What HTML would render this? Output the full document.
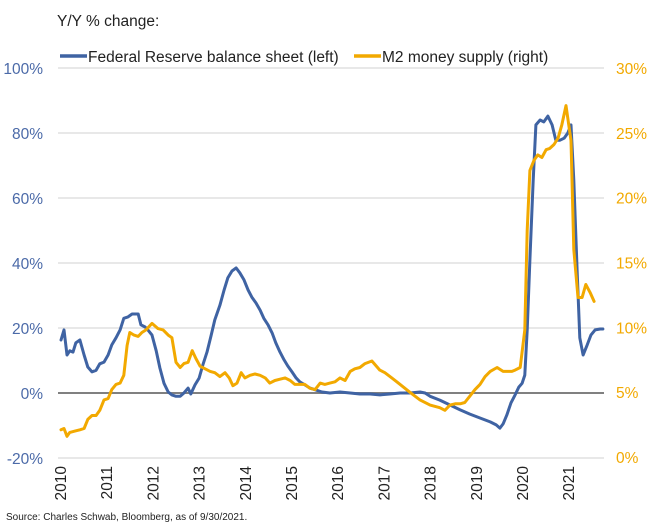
<!DOCTYPE html>
<html><head><meta charset="utf-8">
<style>
html,body{margin:0;padding:0;background:#fff;}
body{width:653px;height:527px;overflow:hidden;font-family:"Liberation Sans",sans-serif;}
</style></head>
<body>
<svg id="chart" width="653" height="527" xmlns="http://www.w3.org/2000/svg" font-family="Liberation Sans, sans-serif">
  <text x="57" y="26" font-size="15.5" fill="#222">Y/Y % change:</text>
  <g>
    <line x1="60" y1="56" x2="87" y2="56" stroke="#3F63A3" stroke-width="3.5"/>
    <text x="88" y="62" font-size="15.5" fill="#222">Federal Reserve balance sheet (left)</text>
    <line x1="354" y1="56" x2="381" y2="56" stroke="#F2A900" stroke-width="3.5"/>
    <text x="382" y="62" font-size="15.5" fill="#222">M2 money supply (right)</text>
  </g>
  <g id="grid"></g>
  <g id="yl"></g>
  <g id="yr"></g>
  <g id="xa"></g>
  <g id="series"></g>
  <text x="6" y="520" font-size="10" fill="#222">Source: Charles Schwab, Bloomberg, as of 9/30/2021.</text>
</svg>
<script>
const leftTicks=[100,80,60,40,20,0,-20];
const rightTicks=[30,25,20,15,10,5,0];
const yearLabels=[2010,2011,2012,2013,2014,2015,2016,2017,2018,2019,2020,2021];
// years since Jan 2010
const fedT=[0,.065,.13,.19,.26,.32,.41,.50,.58,.67,.76,.84,.93,1.02,1.10,1.19,1.28,1.36,1.45,1.54,1.67,1.73,1.82,1.88,1.97,2.06,2.14,2.23,2.32,2.40,2.49,2.58,2.66,2.75,2.81,2.90,2.99,3.07,3.16,3.25,3.33,3.44,3.53,3.61,3.70,3.79,3.87,3.96,4.05,4.13,4.22,4.31,4.39,4.48,4.57,4.65,4.74,4.83,4.91,5.00,5.09,5.17,5.28,5.39,5.52,5.65,5.82,6.04,6.26,6.47,6.69,6.90,7.12,7.34,7.55,7.77,7.88,7.99,8.20,8.42,8.64,8.85,9.07,9.29,9.42,9.50,9.57,9.65,9.74,9.83,9.91,9.98,10.04,10.09,10.15,10.22,10.28,10.37,10.45,10.54,10.63,10.71,10.80,10.89,10.97,11.04,11.10,11.17,11.23,11.30,11.39,11.47,11.56,11.67,11.73];
const fedV=[16.3,19.4,11.7,13,12.6,15.4,16.3,11.7,8,6.5,7,9,9.5,11.7,14.8,17,19.4,23,23.4,24.3,24.3,21,20.3,19.4,17.8,13,7.7,3,0.3,-0.6,-1,-1,0,1.5,-0.3,2.5,4.6,8.6,12.6,17.8,22.5,27,31.7,35.4,37.5,38.5,37,34.8,31.7,29.5,27.7,25.5,23,21,18.5,15.4,12.6,10.2,8.3,6.5,4.6,3.4,2.5,1.5,0.9,0.3,0,0.3,0,-0.3,-0.3,-0.6,-0.3,0,0,0.3,0,-1,-2.2,-3.7,-5.2,-6.5,-7.7,-8.9,-9.8,-10.8,-9.5,-6.8,-3,-0.6,1.8,3,5.5,19.4,41,65.5,82.5,84,83.4,85.2,82.5,77.8,77.8,78.4,80,82.5,65.5,37.8,17,11.7,14.8,17.8,19.4,19.7,19.7];
const m2T=[0,.065,.13,.19,.30,.41,.50,.58,.67,.76,.84,.93,1.02,1.10,1.19,1.28,1.36,1.43,1.49,1.58,1.67,1.75,1.84,1.97,2.10,2.21,2.32,2.40,2.49,2.58,2.66,2.75,2.84,2.92,3.01,3.12,3.23,3.33,3.44,3.55,3.64,3.72,3.81,3.90,3.98,4.09,4.20,4.31,4.42,4.52,4.63,4.74,4.85,4.96,5.06,5.17,5.28,5.39,5.50,5.61,5.71,5.82,5.93,6.04,6.15,6.26,6.36,6.47,6.58,6.73,6.90,7.01,7.16,7.34,7.55,7.77,7.99,8.20,8.31,8.42,8.53,8.64,8.74,8.85,8.96,9.07,9.18,9.29,9.44,9.57,9.68,9.76,9.83,9.94,10.04,10.09,10.15,10.24,10.32,10.41,10.50,10.58,10.67,10.76,10.84,10.93,11.04,11.10,11.19,11.28,11.36,11.45,11.54,11.73];
const m2V=[2.1,2.2,1.6,1.9,2,2.1,2.2,2.9,3.2,3.2,3.6,4.4,4.5,5.2,5.6,5.7,6.3,8.6,9.6,9.4,9.3,9.6,9.8,10.3,9.9,9.8,9.4,9.2,7.3,6.9,7.2,7.3,8.2,7.6,7.0,6.8,6.6,6.5,6.2,6.5,6.1,5.5,5.7,6.5,6.1,6.3,6.4,6.3,6.1,5.7,5.9,6.0,6.1,5.9,5.6,5.6,5.6,5.3,5.2,5.7,5.6,5.7,5.8,6.1,5.9,6.6,6.8,6.9,7.2,7.4,6.7,6.5,6.1,5.6,5.0,4.4,4.0,3.8,3.6,4.0,4.1,4.1,4.2,4.7,5.2,5.6,6.2,6.6,6.9,6.6,6.6,6.6,6.7,6.9,9.8,17.5,22.1,22.9,23.3,23.1,23.7,23.8,24.1,24.6,25.6,27.1,24.4,16.0,12.3,12.3,13.3,12.7,12.0];

const NS="http://www.w3.org/2000/svg";
const X0=61, PXY=46.2, GX1=58, GX2=604;
const x=t=>X0+t*PXY;
const yL=v=>393-v*3.25;
const yR=v=>457-v*12.967;
function mk(tag,attrs,parent){const e=document.createElementNS(NS,tag);for(const k in attrs)e.setAttribute(k,attrs[k]);parent.appendChild(e);return e;}
const grid=document.getElementById('grid'),yl=document.getElementById('yl'),yr=document.getElementById('yr'),xa=document.getElementById('xa'),ser=document.getElementById('series');
leftTicks.forEach(v=>{
  const ln=mk('line',{x1:GX1,x2:GX2,y1:yL(v),y2:yL(v),stroke:v===0?'#808080':'#d9d9d9','stroke-width':v===0?2:1.2},grid);
  
  
  const t=mk('text',{x:43,y:yL(v)+6,'font-size':15.5,fill:'#4B6AA8','text-anchor':'end'},yl);
  t.textContent=v+'%';
  
  
});
rightTicks.forEach(v=>{
  const t=mk('text',{x:616,y:yR(v)+6,'font-size':15.5,fill:'#F2A900'},yr);
  t.textContent=v+'%';
  
  
});
yearLabels.forEach(yr0=>{
  const cx=x(yr0-2010)+5, cy=466;
  const t=mk('text',{x:cx,y:cy,'font-size':15.5,fill:'#222','text-anchor':'end',transform:`rotate(-90 ${cx} ${cy})`},xa);
  t.textContent=yr0;
  
  
});
function line(T,V,yf,color,name){
  const d=T.map((t,i)=>(i?'L':'M')+x(t).toFixed(1)+','+yf(V[i]).toFixed(1)).join('');
  const p=mk('path',{d:d,fill:'none',stroke:color,'stroke-width':3,'stroke-linejoin':'round','stroke-linecap':'round'},ser);
  
  
}
line(fedT,fedV,yL,'#3F63A3','fed-balance-sheet-line');
line(m2T,m2V,yR,'#F2A900','m2-money-supply-line');
</script>
</body></html>
